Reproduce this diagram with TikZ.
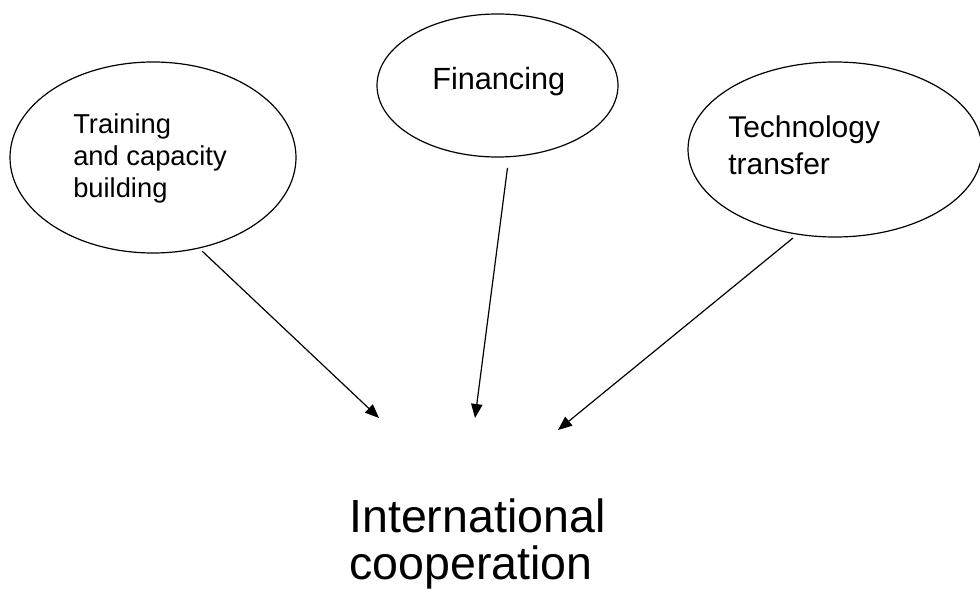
\documentclass[tikz,border=0pt]{standalone}
\usepackage{fontspec}
\setmainfont{Liberation Sans}
\usetikzlibrary{shapes.geometric,arrows.meta}
\tikzset{
  bubble/.style={ellipse, draw, line width=0.9pt, inner sep=0pt},
  bubtext/.style={inner sep=0pt, anchor=north west, align=left},
  feed/.style={-{Triangle[length=10.5pt,width=8.5pt]}, line width=0.9pt},
}
\begin{document}
\begin{tikzpicture}[x=0.75pt, y=-0.75pt]
  \useasboundingbox (0,0) rectangle (980,595);

  % the three sources
  \node[bubble, minimum width=214.5pt, minimum height=143.25pt] (train) at (153,157.5) {};
  \node[bubble, minimum width=180.75pt, minimum height=107.25pt] (fin) at (497.5,85.5) {};
  \node[bubble, minimum width=220.5pt, minimum height=131.25pt] (tech) at (835,149.5) {};

  \node[bubtext, font=\fontsize{20.5}{24}\selectfont] (trainlbl) at (73,113) {Training\\and capacity\\building};
  \node[bubtext, font=\fontsize{23}{27}\selectfont] (finlbl) at (432,67) {Financing};
  \node[bubtext, font=\fontsize{22.5}{27.75}\selectfont] (techlbl) at (728,115) {Technology\\transfer};

  % where they meet
  \node[bubtext, font=\fontsize{34.9}{35.25}\selectfont] (coop) at (349,499) {International\\cooperation};
  \coordinate (tipA) at (379,418);
  \coordinate (tipB) at (475,418);
  \coordinate (tipC) at (558,430);

  \draw[feed, shorten <=3pt] (train.-63) -- (tipA);
  \draw[feed, shorten <=8pt] (fin.-81) -- (tipB);
  \draw[feed, shorten <=4pt] (tech.-114) -- (tipC);
\end{tikzpicture}
\end{document}
